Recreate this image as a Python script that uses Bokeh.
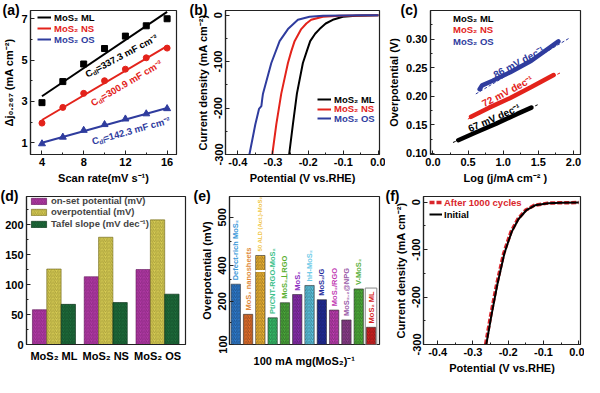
import math
from bokeh.plotting import figure
from bokeh.models import (Label, Legend, LegendItem, FixedTicker, Title,
                          CustomJSTickFormatter, Range1d, ColumnDataSource)
from bokeh.layouts import column, row
from bokeh.embed import file_html
from bokeh.resources import INLINE
from bokeh.core.properties import value

FONT = "Liberation Sans"
C_ML, C_NS, C_OS = "#000000", "#e3231b", "#2f3c9e"
SAMPLES = ["MoS₂ ML", "MoS₂ NS", "MoS₂ OS"]

# ---------------- (a) double-layer capacitance
scan_rate = [4, 6, 8, 10, 12, 14, 16]
dj_ml = [2.94, 3.96, 4.81, 5.56, 6.16, 6.66, 7.0]
dj_ns = [1.95, 2.71, 3.39, 4.0, 4.56, 5.11, 5.58]
dj_os = [0.95, 1.27, 1.6, 1.88, 2.15, 2.4, 2.65]
fit_x = [4, 16]
fit_ml = [3.25, 7.33]
fit_ns = [2.1, 5.68]
fit_os = [1.0, 2.68]
cdl = [337.3, 300.9, 142.3]

# ---------------- (b) polarization curves
v_ml = [-0.254, -0.2433, -0.2319, -0.2149, -0.2035, -0.1941, -0.18, -0.1676, -0.15, -0.1298, -0.1014, -0.0636, -0.03, 0.0]
j_ml = [-300, -235, -169, -103, -77, -56, -40, -30, -18, -10, -3.3, -1.3, -0.5, 0]
v_ns = [-0.302, -0.2905, -0.2764, -0.2574, -0.248, -0.2385, -0.2196, -0.205, -0.1913, -0.1582, -0.1109, -0.05, 0.0]
j_ns = [-300, -235, -169, -103, -78, -56, -30, -18, -10, -3.3, -1.3, -0.5, 0]
v_os = [-0.367, -0.3501, -0.3397, -0.333, -0.3303, -0.3284, -0.3047, -0.2811, -0.2574, -0.2291, -0.196, -0.158, -0.1, -0.05, 0.0]
j_os = [-300, -235, -202, -196, -179, -169, -103, -56, -30, -10, -3.3, -1.3, -0.8, -0.4, 0]

# ---------------- (c) Tafel plots
tafel_ml_x = [0.36, 0.6, 0.9, 1.2, 1.40]
tafel_ml_y = [0.123, 0.136, 0.152, 0.169, 0.180]
tfit_ml_x = [0.285, 1.49]
tfit_ml_y = [0.119, 0.185]
tafel_ns_x = [0.542, 0.8, 1.1, 1.4, 1.717]
tafel_ns_y = [0.164, 0.180, 0.197, 0.216, 0.237]
tfit_ns_x = [0.497, 1.83]
tfit_ns_y = [0.160, 0.242]
tafel_os_x = [0.664, 0.70, 0.85, 1.1, 1.4, 1.785]
tafel_os_y = [0.2124, 0.219, 0.227, 0.242, 0.262, 0.296]
tfit_os_x = [0.61, 1.94]
tfit_os_y = [0.204, 0.3016]
tafel_slopes = [67, 72, 86]

# ---------------- (d) summary bars
onset = [58, 113, 125]
overpot = [126, 179, 208]
tafel = [67, 70, 84]
d_series = ["on-set potential (mV)", "overpotential (mV)", "Tafel slope (mV dec⁻¹)"]

# ---------------- (e) comparison with literature
e_names = ["Defect-rich MoS₂", "MoS₂ nanosheets", "50 ALD (Act.)-MoS₂", "Pt/CNT-RGO-MoS₂",
           "MoS₂⊥RGO", "MoS₂", "hH-MoS₂", "MoS₂/G", "MoS₂/RGO", "MoS₂.₂@NPG", "V-MoS₂", "MoS₂ ML"]
e_values = [240, 170, 421, 162, 197, 216, 237, 204, 180, 157, 229, 140]
e_colors = ["#2c7bd0", "#e8702a", "#f2b632", "#35c06a", "#4aaa3a", "#8a2cb0",
            "#5cc8e4", "#1f2a9c", "#c13cb4", "#8e3d8e", "#4db038", "#d61f1f"]
e_text_colors = ["#3a98d8", "#e08a3a", "#f0c440", "#3cc08a", "#5ab030", "#8a2cc0",
                 "#70cbe8", "#1f2a9c", "#c13cb4", "#9a5aa8", "#5ab040", "#d61f1f"]
e_text_sizes = ["7.5px"] * 2 + ["6px"] + ["7.5px"] * 9

# ---------------- (f) stability
v_init = [-0.262, -0.248, -0.231, -0.211, -0.200, -0.190, -0.171, -0.148, -0.124, -0.086, -0.05, 0.0]
j_init = [-300, -240.6, -174.7, -108.8, -84, -62.6, -36, -16.5, -6.6, -2, -1.2, -0.7]
v_after = [-0.264, -0.250, -0.233, -0.213, -0.202, -0.192, -0.173, -0.150, -0.126, -0.088, -0.05, 0.0]
j_after = [-300, -240.6, -174.7, -108.8, -84, -62.6, -36, -16.5, -6.6, -2, -1.2, -0.7]


def base_fig(width, height, left, right, top, bottom, x_range, y_range):
    p = figure(width=width, height=height, x_range=Range1d(*x_range), y_range=Range1d(*y_range),
               output_backend="svg", toolbar_location=None,
               min_border_left=left, min_border_right=right,
               min_border_top=top, min_border_bottom=bottom)
    p.xgrid.visible = False
    p.ygrid.visible = False
    p.outline_line_color = "#222222"
    p.outline_line_width = 1.2
    p.outline_line_alpha = 1
    for ax in p.axis:
        ax.axis_line_color = "#222222"
        ax.axis_line_width = 1.2
        ax.major_tick_in = 4
        ax.major_tick_out = 0
        ax.minor_tick_in = 2
        ax.minor_tick_out = 0
        ax.major_tick_line_color = "#222222"
        ax.minor_tick_line_color = "#222222"
        ax.major_label_text_font = FONT
        ax.major_label_text_font_style = "bold"
        ax.major_label_text_font_size = "11px"
        ax.major_label_text_color = "black"
        ax.major_label_standoff = 3
        ax.axis_label_text_font = FONT
        ax.axis_label_text_font_style = "bold"
        ax.axis_label_text_font_size = "11px"
        ax.axis_label_text_color = "black"
        ax.axis_label_standoff = 3
    return p


def panel_title(p, text, dx):
    # title squeezed into a ~2px panel so that it sits beside the frame's top-left corner
    p.title = Title(text=text, align="left", offset=dx, standoff=-14, vertical_align="bottom",
                    text_font=FONT, text_font_style="bold", text_font_size="14px",
                    text_color="black")


def single_legend(p, renderers, label, color, x, y, size="9.5px", gw=14, standoff=3):
    leg = Legend(items=[LegendItem(label=label, renderers=renderers)], location=(x, y),
                 label_text_color=color, label_text_font=FONT, label_text_font_style="bold",
                 label_text_font_size=size, background_fill_alpha=0, border_line_alpha=0,
                 padding=0, margin=0, spacing=0, glyph_width=gw, glyph_height=8,
                 label_height=8, label_standoff=standoff)
    p.add_layout(leg)


def fmt(n):
    return CustomJSTickFormatter(code="return tick.toFixed(%d);" % n)


# ================= (a)
FH1 = 146
pa = base_fig(188, 186, 28, 12, 10, 30, (2.9, 16.9), (0.43, 7.4))
pa.xaxis.ticker = FixedTicker(ticks=[4, 8, 12, 16], minor_ticks=[6, 10, 14])
pa.yaxis.ticker = FixedTicker(ticks=[1, 3, 5, 7], minor_ticks=[2, 4, 6])
pa.xaxis.axis_label = "Scan rate(mV s⁻¹)"
pa.yaxis.axis_label = "Δj₀.₂₆₇ (mA cm⁻²)"
la = pa.line(fit_x, fit_ml, line_color=C_ML, line_width=2)
lb = pa.line(fit_x, fit_ns, line_color=C_NS, line_width=2)
lc = pa.line(fit_x, fit_os, line_color=C_OS, line_width=2)
pa.scatter(scan_rate, dj_ml, marker="square", size=6, color=C_ML)
pa.scatter(scan_rate, dj_ns, marker="circle", size=6, color=C_NS)
pa.scatter(scan_rate, dj_os, marker="triangle", size=7, color=C_OS)
for i, (r, c) in enumerate(zip([la, lb, lc], [C_ML, C_NS, C_OS])):
    single_legend(pa, [r], SAMPLES[i], c, 7, FH1 - 9 - 11 * i - 5.5)


def cdl_label(p, x, y, deg, val, color):
    th = math.radians(deg)
    pieces = [("C", 0.0, 0.0, "9.5px"), ("dl", 7.0, -2.5, "6.5px"),
              ("=%.1f mF cm⁻²" % val, 12.0, 0.0, "9.5px")]
    for text, d, s, size in pieces:
        xo = d * math.cos(th) - s * math.sin(th)
        yo = d * math.sin(th) + s * math.cos(th)
        p.add_layout(Label(x=x, y=y, x_offset=xo, y_offset=yo, angle=th, text=text,
                           text_color=color, text_font=FONT, text_font_style="bold",
                           text_font_size=size, text_align="left", text_baseline="alphabetic"))


cdl_label(pa, 8.2, 4.3, 28, cdl[0], C_ML)
cdl_label(pa, 8.75, 2.9, 30.5, cdl[1], C_NS)
cdl_label(pa, 8.8, 1.06, 15.5, cdl[2], C_OS)
panel_title(pa, "(a)", -28)

# ================= (b)
pb = base_fig(197, 186, 37, 6, 10, 30, (-0.435, 0.003), (-300, 10))
pb.xaxis.ticker = FixedTicker(ticks=[-0.4, -0.3, -0.2, -0.1, 0.0],
                              minor_ticks=[-0.35, -0.25, -0.15, -0.05])
pb.yaxis.ticker = FixedTicker(ticks=[-300, -200, -100, 0], minor_ticks=[-250, -150, -50])
pb.xaxis.formatter = fmt(1)
pb.yaxis.formatter = fmt(0)
pb.yaxis.major_label_orientation = "parallel"
pb.xaxis.axis_label = "Potential (V vs.RHE)"
pb.yaxis.axis_label = "Current density (mA cm⁻²)"
rb_ml = pb.line(v_ml, j_ml, line_color=C_ML, line_width=2)
rb_ns = pb.line(v_ns, j_ns, line_color=C_NS, line_width=2)
rb_os = pb.line(v_os, j_os, line_color=C_OS, line_width=2)
for i, (r, c) in enumerate(zip([rb_ml, rb_ns, rb_os], [C_ML, C_NS, C_OS])):
    single_legend(pb, [r], SAMPLES[i], c, 92, FH1 - 91 - 9.7 * i - 5.5)
panel_title(pb, "(b)", -36)

# ================= (c)
pc = base_fig(199, 186, 38, 4, 10, 30, (-0.035, 2.1), (0.098, 0.35))
pc.xaxis.ticker = FixedTicker(ticks=[0, 0.5, 1.0, 1.5, 2.0], minor_ticks=[0.25, 0.75, 1.25, 1.75])
pc.yaxis.ticker = FixedTicker(ticks=[0.10, 0.15, 0.20, 0.25, 0.30],
                              minor_ticks=[0.125, 0.175, 0.225, 0.275, 0.325])
pc.xaxis.formatter = fmt(1)
pc.yaxis.formatter = fmt(2)
pc.xaxis.axis_label = "Log (j/mA cm⁻² )"
pc.yaxis.axis_label = "Overpotential (V)"
for fx, fy, c in [(tfit_ml_x, tfit_ml_y, C_ML), (tfit_ns_x, tfit_ns_y, C_NS), (tfit_os_x, tfit_os_y, C_OS)]:
    pc.line(fx, fy, line_color=c, line_width=1, line_dash="3 2")
for tx, ty, c in [(tafel_ml_x, tafel_ml_y, C_ML), (tafel_ns_x, tafel_ns_y, C_NS), (tafel_os_x, tafel_os_y, C_OS)]:
    pc.line(tx, ty, line_color=c, line_width=4.5, line_cap="round")
markers = ["square", "circle", "triangle"]
for i, c in enumerate([C_ML, C_NS, C_OS]):
    dl = pc.line([], [], line_color=c, line_width=1.5)
    ds = pc.scatter([], [], marker=markers[i], size=5, color=c)
    single_legend(pc, [dl, ds], SAMPLES[i], c, 6, FH1 - 10 - 11.5 * i - 5.5)
for (cx, cy, deg), val, c in zip([(0.87, 0.162, 23.5), (1.06, 0.2085, 27.5), (1.22, 0.2595, 28)],
                                 tafel_slopes, [C_ML, C_NS, C_OS]):
    pc.add_layout(Label(x=cx, y=cy, angle=math.radians(deg), text="%d mV dec⁻¹" % val,
                        text_color=c, text_font=FONT, text_font_style="bold",
                        text_font_size="10px", text_align="center", text_baseline="middle"))
panel_title(pc, "(c)", -30)

# ================= (d)
FH2 = 150
pd = base_fig(193, 190, 26, 8, 10, 30, (0.47, 3.54), (0, 247))
pd.yaxis.ticker = FixedTicker(ticks=[0, 50, 100, 150, 200], minor_ticks=[25, 75, 125, 175, 225])
pd.xaxis.ticker = FixedTicker(ticks=[1, 2, 3])
pd.xaxis.major_label_overrides = {1: SAMPLES[0], 2: SAMPLES[1], 3: SAMPLES[2]}
pd.xaxis.major_tick_in = 0
pd.xaxis.major_label_standoff = 5
groups = [1, 2, 3]
bw = 0.277
d_fill = ["#b23aa6", "#d8cd55", "#1f6e3c"]
d_hatch = ["#5e1656", "#6f661c", "#062a14"]
d_rs = []
for k, vals in enumerate([onset, overpot, tafel]):
    xs = [g + (k - 1) * bw for g in groups]
    r = pd.vbar(x=xs, top=vals, width=bw, bottom=0, fill_color=d_fill[k], line_color=d_hatch[k],
                line_width=0.6, hatch_pattern="/", hatch_color=d_hatch[k], hatch_alpha=0.55,
                hatch_scale=3.5, hatch_weight=0.8)
    d_rs.append(r)
leg_d = Legend(items=[LegendItem(label=d_series[k], renderers=[d_rs[k]]) for k in range(3)],
               location=(3, FH2 - 36), label_text_font=FONT, label_text_font_style="bold",
               label_text_font_size="9.5px", background_fill_alpha=0, border_line_alpha=0,
               padding=0, margin=0, spacing=0, glyph_width=19, glyph_height=8,
               label_height=9, label_standoff=3)
pd.add_layout(leg_d)
panel_title(pd, "(d)", -26)

# ================= (e)
BREAK_LO, BREAK_HI, GAP, UP_K = 268, 391, 5, 1.12


def disp(v):
    return v if v <= BREAK_LO else BREAK_LO + GAP + (v - BREAK_HI) * UP_K


pe = base_fig(192, 190, 36, 6, 10, 30, (-0.51, 11.69), (100, 443.5))
pe.xaxis.ticker = FixedTicker(ticks=[])
pe.xaxis.axis_line_color = None
pe.xaxis.axis_label = "100 mA mg(MoS₂)⁻¹"
pe.xaxis.axis_label_standoff = 10
pe.yaxis.ticker = FixedTicker(ticks=[100, 200, disp(400), disp(500)],
                              minor_ticks=[150, 250, disp(450)])
pe.yaxis.formatter = CustomJSTickFormatter(
    args=dict(lo=BREAK_LO, hi=BREAK_HI, gap=GAP, k=UP_K),
    code="if (tick > lo) { return Math.round((tick - lo - gap) / k + hi).toString(); } return tick.toFixed(0);")
pe.yaxis.major_label_orientation = "parallel"
pe.yaxis.axis_label = "Overpotential (mV)"
idx = list(range(len(e_values)))
tops = [disp(v) for v in e_values]
last = idx[-1]
pe.quad(left=[last - 0.47], right=[last + 0.47], bottom=[100], top=[231],
        fill_color="white", line_color="#888888", line_width=1)
pe.vbar(x=idx, top=tops, bottom=100, width=0.76, fill_color=e_colors, line_color="#333333",
        line_width=0.6, hatch_pattern="/", hatch_color="#111111", hatch_alpha=0.45,
        hatch_scale=3.5, hatch_weight=0.8)
big = [i for i, v in enumerate(e_values) if v > BREAK_LO]
pe.quad(left=[i - 0.4 for i in big], right=[i + 0.4 for i in big],
        bottom=[BREAK_LO] * len(big), top=[BREAK_LO + GAP] * len(big),
        fill_color="white", line_color=None)
src_e = ColumnDataSource(dict(x=idx, y=[t + 9 for t in tops], text=e_names,
                              color=e_text_colors, size=e_text_sizes))
pe.text(x="x", y="y", text="text", text_color="color", text_font_size="size", source=src_e,
        angle=math.pi / 2, text_font=value(FONT), text_font_style="bold",
        text_align="left", text_baseline="middle")
pe.add_layout(Label(x=pe.x_range.end, y=BREAK_LO + GAP / 2, x_offset=6, text="//",
                    text_font=FONT, text_font_style="bold", text_font_size="9px",
                    text_color="#333333", text_align="right", text_baseline="middle",
                    background_fill_color="white"))
panel_title(pe, "(e)", -36)

# ================= (f)
pf = base_fig(199, 190, 38, 4, 10, 30, (-0.44, 0.005), (-300, 12))
pf.xaxis.ticker = FixedTicker(ticks=[-0.4, -0.3, -0.2, -0.1, 0.0],
                              minor_ticks=[-0.35, -0.25, -0.15, -0.05])
pf.yaxis.ticker = FixedTicker(ticks=[-300, -200, -100, 0], minor_ticks=[-250, -150, -50])
pf.xaxis.formatter = fmt(1)
pf.yaxis.formatter = fmt(0)
pf.yaxis.major_label_orientation = "parallel"
pf.xaxis.axis_label = "Potential (V vs.RHE)"
pf.yaxis.axis_label = "Current density (mA cm⁻²)"
rf_a = pf.line(v_after, j_after, line_color="#d9262c", line_width=3.5, line_dash="5 2")
rf_i = pf.line(v_init, j_init, line_color="black", line_width=2)
single_legend(pf, [rf_a], "After 1000 cycles", "#d9262c", 6, FH2 - 8 - 5.5, size="9.5px", gw=13, standoff=2)
single_legend(pf, [rf_i], "Initial", "black", 6, FH2 - 20 - 5.5, size="9.5px", gw=13, standoff=2)
panel_title(pf, "(f)", -38)

layout = column(row(pa, pb, pc), row(pd, pe, pf))
open("out.html", "w").write(file_html(layout, INLINE, "MoS2 figure"))
